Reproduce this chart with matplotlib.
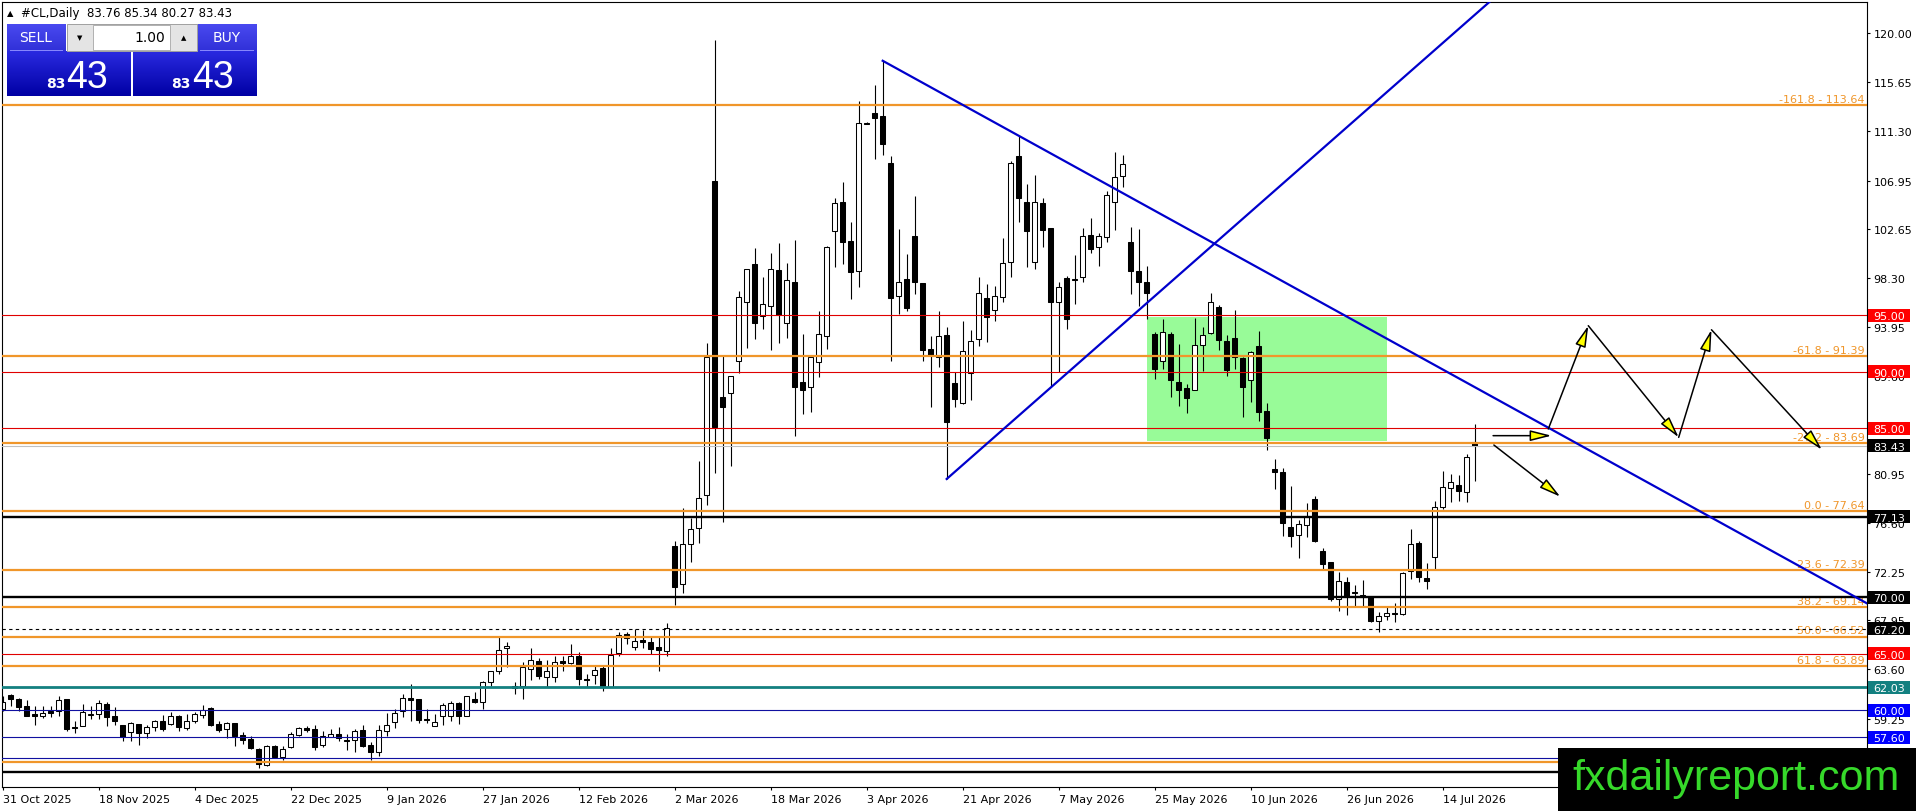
import matplotlib
matplotlib.use("Agg")
import matplotlib.pyplot as plt
from matplotlib.patches import Rectangle, FancyArrowPatch
import numpy as np

plt.rcParams['font.family'] = ['DejaVu Sans']

# ----------------------------------------------------------------------------------------------
# DATA  (daily candles of #CL, bar 0 = 31 Oct 2025)
opens = [60.10, 61.34, 60.98, 60.36, 59.65, 59.50, 59.95, 59.95, 60.98, 58.50,
         58.62, 59.59, 59.62, 60.54, 59.50, 58.68, 58.03, 58.77, 57.94, 58.47,
         59.00, 58.77, 59.50, 58.41, 59.00, 59.59, 60.15, 58.77, 58.32, 58.85,
         57.79, 57.44, 56.55, 55.13, 56.84, 55.87, 56.70, 57.82, 58.38, 58.32,
         56.93, 57.64, 57.88, 57.35, 57.38, 58.23, 56.93, 56.31, 58.17, 58.91,
         59.89, 61.07, 60.98, 59.21, 58.62, 59.45, 59.45, 60.63, 59.50, 60.98,
         60.69, 62.46, 63.43, 65.48, 61.96, 62.17, 63.65, 64.39, 62.97, 62.91,
         64.39, 64.15, 64.77, 62.76, 63.15, 63.71, 62.08, 65.04, 66.75, 65.57,
         66.25, 66.01, 65.57, 65.21, 74.55, 71.16, 74.70, 76.12, 79.10, 106.90,
         87.80, 88.14, 90.93, 96.16, 99.55, 94.96, 95.79, 98.99, 94.29, 97.92,
         89.12, 88.67, 90.89, 93.20, 102.50, 105.02, 101.59, 98.90, 112.05, 112.93,
         112.64, 108.47, 96.74, 98.22, 102.00, 97.83, 92.01, 91.33, 93.25, 89.00,
         87.23, 89.89, 92.90, 96.50, 95.50, 96.59, 99.69, 109.10, 105.07, 99.69,
         104.96, 102.71, 96.21, 98.28, 98.22, 98.37, 102.12, 101.02, 101.91, 105.01,
         107.38, 101.50, 98.90, 97.92, 93.34, 90.92, 93.34, 89.06, 88.53, 88.41,
         92.40, 93.40, 95.70, 92.75, 92.99, 91.21, 89.29, 92.25, 86.54, 81.37,
         81.08, 76.26, 75.52, 76.41, 78.72, 74.13, 73.10, 69.85, 71.33, 70.44,
         70.20, 70.00, 67.93, 68.31, 68.58, 68.52, 72.36, 74.81, 71.71, 73.60,
         77.98, 79.66, 79.96, 79.30, 83.76]
highs = [61.28, 61.43, 61.05, 60.92, 60.39, 60.33, 60.33, 61.28, 61.00, 59.06,
         60.51, 60.39, 60.92, 60.69, 60.24, 58.70, 58.91, 58.80, 58.68, 59.15,
         59.59, 59.80, 59.56, 59.65, 59.80, 60.45, 60.24, 59.06, 58.97, 58.87,
         58.03, 57.67, 56.61, 56.93, 56.93, 56.84, 58.03, 58.53, 58.62, 58.71,
         58.17, 58.32, 58.47, 57.88, 58.32, 58.71, 57.14, 58.71, 59.71, 60.10,
         61.43, 62.31, 61.00, 60.10, 59.65, 60.63, 60.83, 60.75, 61.28, 61.57,
         62.61, 63.49, 66.45, 66.01, 62.52, 64.24, 65.48, 64.59, 64.47, 64.77,
         64.77, 65.86, 65.13, 63.20, 63.88, 63.94, 65.48, 66.90, 66.90, 67.19,
         67.13, 66.54, 66.54, 67.73, 75.00, 77.91, 77.05, 82.09, 92.54, 119.40,
         91.42, 89.63, 97.20, 99.14, 100.93, 98.40, 100.49, 101.42, 99.63, 101.68,
         93.34, 91.30, 95.41, 101.17, 105.37, 106.79, 103.30, 114.03, 112.10, 115.42,
         117.57, 109.10, 102.65, 100.43, 105.61, 97.85, 93.20, 95.41, 93.99, 89.94,
         94.52, 93.73, 98.37, 97.78, 97.63, 101.82, 108.71, 110.93, 106.64, 107.44,
         105.37, 102.75, 97.92, 98.46, 100.35, 102.74, 103.62, 102.29, 106.05, 109.50,
         109.21, 102.85, 102.65, 99.34, 93.49, 94.67, 93.49, 92.46, 88.91, 94.73,
         93.93, 96.98, 95.91, 93.25, 95.50, 91.27, 91.87, 93.64, 87.23, 82.26,
         81.43, 79.84, 76.88, 78.36, 79.01, 74.34, 73.12, 72.27, 71.77, 71.09,
         71.56, 70.14, 68.73, 69.26, 69.50, 72.27, 76.06, 75.02, 73.04, 78.57,
         81.23, 80.93, 80.84, 82.70, 85.34]
lows = [59.95, 60.39, 59.95, 59.45, 58.71, 59.27, 59.36, 59.50, 58.17, 57.97,
        58.60, 59.21, 59.21, 58.62, 58.71, 57.29, 57.29, 56.93, 57.49, 58.17,
        58.17, 58.68, 58.17, 58.26, 58.85, 59.33, 58.56, 58.03, 57.52, 56.84,
        56.99, 56.55, 54.84, 55.07, 55.75, 55.60, 56.68, 57.73, 58.03, 56.49,
        56.76, 57.58, 57.29, 56.49, 56.25, 56.70, 55.60, 55.90, 57.73, 58.38,
        59.36, 59.06, 58.82, 58.82, 58.56, 58.71, 59.00, 58.77, 59.45, 60.63,
        60.10, 62.16, 63.20, 63.80, 61.43, 60.99, 62.67, 62.76, 62.02, 62.47,
        63.50, 64.09, 62.26, 62.02, 62.32, 61.73, 62.02, 64.77, 65.86, 65.36,
        65.48, 64.98, 63.50, 64.77, 69.33, 70.34, 73.14, 74.82, 78.17, 81.05,
        76.68, 81.64, 89.93, 92.09, 92.91, 93.77, 91.90, 92.54, 93.02, 84.33,
        86.25, 86.40, 89.50, 92.01, 99.25, 99.55, 96.45, 97.48, 111.95, 108.86,
        109.21, 90.98, 95.12, 95.41, 96.89, 90.98, 86.90, 90.39, 80.49, 86.84,
        87.10, 87.52, 92.25, 92.66, 94.52, 96.21, 98.37, 103.30, 99.25, 99.10,
        101.03, 88.76, 89.94, 93.79, 96.00, 97.92, 100.52, 99.34, 101.47, 102.59,
        106.34, 96.89, 95.80, 94.67, 89.35, 90.24, 87.73, 86.99, 86.31, 88.40,
        90.09, 93.38, 91.95, 89.65, 90.24, 85.96, 87.34, 85.66, 83.09, 79.60,
        75.46, 74.49, 73.45, 75.32, 74.87, 72.51, 69.70, 68.82, 68.43, 69.11,
        69.11, 67.78, 66.95, 68.02, 67.78, 68.43, 71.62, 71.33, 70.74, 72.51,
        77.83, 78.48, 78.57, 78.48, 80.27]
closes = [60.75, 60.98, 60.30, 59.50, 59.45, 59.71, 59.77, 60.92, 58.32, 58.38,
          59.86, 59.65, 60.60, 59.42, 59.06, 57.58, 58.85, 57.97, 58.47, 59.00,
          58.32, 59.50, 58.47, 59.00, 59.65, 60.04, 58.71, 58.26, 58.85, 57.73,
          57.38, 56.61, 55.22, 56.84, 55.87, 56.55, 57.88, 58.41, 58.26, 56.70,
          57.67, 57.88, 57.52, 57.23, 58.17, 56.84, 56.25, 58.26, 58.68, 59.71,
          61.07, 60.92, 59.15, 59.12, 58.91, 60.45, 60.63, 59.50, 61.22, 60.69,
          62.46, 63.43, 65.35, 65.66, 62.17, 63.80, 64.45, 63.00, 63.44, 64.30,
          64.15, 64.77, 62.76, 62.70, 63.59, 62.17, 64.92, 66.69, 66.40, 66.16,
          66.01, 65.42, 65.36, 67.25, 70.90, 74.70, 76.05, 78.84, 91.34, 85.08,
          86.83, 89.63, 96.64, 99.07, 94.29, 95.97, 99.14, 95.04, 98.14, 88.67,
          88.41, 91.27, 93.34, 101.03, 104.96, 101.47, 98.81, 112.02, 112.00, 112.49,
          110.19, 96.50, 97.92, 95.62, 97.92, 91.95, 91.48, 93.13, 85.51, 87.58,
          91.81, 92.75, 96.95, 94.82, 96.68, 99.61, 108.50, 105.37, 102.45, 105.07,
          102.60, 96.15, 97.48, 94.67, 98.16, 102.00, 100.88, 102.00, 105.66, 107.23,
          108.41, 98.96, 97.92, 96.95, 90.24, 93.49, 89.29, 88.41, 87.67, 92.40,
          93.28, 96.15, 92.84, 90.18, 91.27, 88.61, 91.78, 86.40, 84.12, 81.08,
          76.56, 75.46, 76.50, 77.24, 74.96, 72.95, 69.85, 71.48, 70.14, 70.35,
          70.06, 67.93, 68.37, 68.58, 68.50, 72.15, 74.73, 71.77, 71.42, 77.98,
          79.75, 80.19, 79.45, 82.41, 83.43]

date_labels = ['31 Oct 2025', '18 Nov 2025', '4 Dec 2025', '22 Dec 2025', '9 Jan 2026',
               '27 Jan 2026', '12 Feb 2026', '2 Mar 2026', '18 Mar 2026', '3 Apr 2026',
               '21 Apr 2026', '7 May 2026', '25 May 2026', '10 Jun 2026', '26 Jun 2026',
               '14 Jul 2026']
date_bars = [0, 12, 24, 36, 48, 60, 72, 84, 96, 108, 120, 132, 144, 156, 168, 180]

price_ticks = [120.00, 115.65, 111.30, 106.95, 102.65, 98.30, 93.95, 89.60, 85.30,
               80.95, 76.60, 72.25, 67.95, 63.60, 59.25, 54.90]

# fibonacci levels (the 100.0 label sits under the watermark, so it has no text)
fib_values = [113.64, 91.39, 83.69, 77.64, 72.39, 69.14, 66.52, 63.89, 55.39]
fib_labels = ['-161.8 - 113.64', '-61.8 - 91.39', '-27.2 - 83.69', '0.0 - 77.64',
              '23.6 - 72.39', '38.2 - 69.14', '50.0 - 66.52', '61.8 - 63.89', None]
# horizontal support / resistance lines
red_levels = [95.00, 90.00, 85.00, 65.00]
black_levels = [77.13, 70.00, 54.49]
dashed_level = 67.20
teal_level = 62.03
blue_levels = [60.00, 57.60, 55.73]
bid_level = 83.43

# price tags on the right axis
tag_values = [95.00, 90.00, 85.00, 83.43, 77.13, 70.00, 67.20, 65.00, 62.03, 60.00, 57.60]
tag_colors = ['#FF0000', '#FF0000', '#FF0000', '#000000', '#000000', '#000000', '#000000',
              '#FF0000', '#138080', '#0000FF', '#0000FF']

# trend lines (bar, price)
down_trend = [(110, 117.57), (240, 66.74)]
up_trend = [(118, 80.49), (200, 131.61)]

# green box (bar0, bar1, low, high)
zone = (143.0, 173.0, 83.88, 94.82)

# projected path arrows (bar, price)
arrows = [((186.3, 84.33), (193.6, 84.33)),
          ((186.4, 83.50), (194.7, 78.92)),
          ((193.2, 84.92), (198.2, 94.08)),
          ((198.2, 94.08), (209.5, 84.18)),
          ((209.5, 84.18), (213.6, 93.72)),
          ((213.6, 93.72), (227.4, 83.08))]

# ----------------------------------------------------------------------------------------------
W, H = 1916, 812
fig = plt.figure(figsize=(W / 100, H / 100), dpi=100)
fig.patch.set_facecolor('white')

ax_l, ax_r, ax_t, ax_b = 2.3, 1867.0, 3.0, 788.0
ax = fig.add_axes([ax_l / W, 1 - ax_b / H, (ax_r - ax_l) / W, (ax_b - ax_t) / H])
ax.set_xlim(-0.05, 233.04)
ax.set_ylim(53.18, 122.78)
ax_w_px = ax_r - ax_l
px_per_unit = (ax_b - ax_t) / (122.78 - 53.18)

# CANDLES - - - - - - - - - - - - - - - - - - - - - - - - - - - - - - - - - - - - - - - - - - -
o = np.array(opens)
c = np.array(closes)
idx = np.arange(len(o))
up = c >= o
body_lo = np.minimum(o, c)
body_h = np.maximum(np.abs(c - o), 0.07)

ax.vlines(idx, lows, highs, color='black', lw=0.8, zorder=2)
ax.bar(idx[up], body_h[up], bottom=body_lo[up], width=0.55, facecolor='white',
       edgecolor='black', lw=0.75, zorder=2.5)
ax.bar(idx[~up], body_h[~up], bottom=body_lo[~up], width=0.55, facecolor='black',
       edgecolor='black', lw=0.75, zorder=2.5)

# OBJECTS - - - - - - - - - - - - - - - - - - - - - - - - - - - - - - - - - - - - - - - - - - -
ax.add_patch(Rectangle((zone[0], zone[2]), zone[1] - zone[0], zone[3] - zone[2],
                       facecolor='#98FB98', edgecolor='none', zorder=1))

orange = '#F0962A'
for v, lab in zip(fib_values, fib_labels):
    ax.axhline(v, color=orange, lw=1.6, zorder=3)
    if lab:
        ax.text(0.9988, v + 0.12, lab, transform=ax.get_yaxis_transform(), color=orange,
                fontsize=8, ha='right', va='bottom', zorder=3)
for v in red_levels:
    ax.axhline(v, color='#E00000', lw=0.8, zorder=3)
for v in black_levels:
    ax.axhline(v, color='black', lw=1.7, zorder=3)
ax.axhline(dashed_level, color='black', lw=0.8, ls=(0, (3, 3)), zorder=3)
ax.axhline(teal_level, color='#138080', lw=2.0, zorder=3)
for v in blue_levels:
    ax.axhline(v, color='#1010A0', lw=0.8, zorder=3)
ax.axhline(bid_level, color='#C0C0C0', lw=0.8, zorder=2.8)

for line in (down_trend, up_trend):
    ax.plot([line[0][0], line[1][0]], [line[0][1], line[1][1]], color='#0000CC', lw=1.6, zorder=4)

for start, end in arrows:
    ax.add_patch(FancyArrowPatch(start, end, arrowstyle='-|>,head_length=1.3,head_width=0.33',
                                 mutation_scale=10, shrinkA=0, shrinkB=0, facecolor='yellow',
                                 edgecolor='black', lw=1.1, zorder=5))

# AXES - - - - - - - - - - - - - - - - - - - - - - - - - - - - - - - - - - - - - - - - - - - - -
for s in ax.spines.values():
    s.set_color('black')
    s.set_linewidth(0.8)
ax.yaxis.tick_right()
ax.set_yticks(price_ticks)
ax.set_yticklabels(['{:.2f}'.format(v) for v in price_ticks])
ax.set_xticks(date_bars)
ax.set_xticklabels(date_labels, ha='left')
ax.tick_params(axis='both', labelsize=8, length=2.5, width=0.8, color='black', pad=2.2)

trans = ax.get_yaxis_transform()
for v, col in zip(tag_values, tag_colors):
    ax.add_patch(Rectangle((1 + 1.3 / ax_w_px, v - 6.5 / px_per_unit), 42 / ax_w_px,
                           13 / px_per_unit, transform=trans, facecolor=col, edgecolor='none',
                           clip_on=False, zorder=6))
    ax.text(1 + 6.3 / ax_w_px, v, '{:.2f}'.format(v), transform=trans, color='white',
            fontsize=8, ha='left', va='center_baseline', clip_on=False, zorder=7)

# OVERLAY (trade panel, header, watermark) - - - - - - - - - - - - - - - - - - - - - - - - - -
ov = fig.add_axes([0, 0, 1, 1])
ov.set_xlim(0, W)
ov.set_ylim(H, 0)
ov.axis('off')


def gradient_box(x0, y0, x1, y1, top, bottom):
    grad = np.linspace(0, 1, 64)[:, None]
    c0 = np.array(matplotlib.colors.to_rgb(top))
    c1 = np.array(matplotlib.colors.to_rgb(bottom))
    img = c0[None, None, :] * (1 - grad[:, :, None]) + c1[None, None, :] * grad[:, :, None]
    ov.imshow(img, extent=(x0, x1, y1, y0), aspect='auto', zorder=2, interpolation='bilinear')


last = len(opens) - 1
ov.text(7, 13.5, '\u25B2', fontsize=6, ha='left', va='center', color='black')
ov.text(21, 13.5, '#CL,Daily  {:.2f} {:.2f} {:.2f} {:.2f}'.format(
    opens[last], highs[last], lows[last], closes[last]), fontsize=8.5, ha='left', va='center')

gradient_box(6.7, 51.7, 130.7, 96.7, '#2A2AE0', '#0000A4')
gradient_box(133.3, 51.7, 256.7, 96.7, '#2A2AE0', '#0000A4')
gradient_box(6.7, 25, 65, 51.7, '#4A4AF0', '#3030D8')
gradient_box(197, 25, 256.7, 51.7, '#4A4AF0', '#3030D8')
ov.add_patch(Rectangle((67, 25), 130, 26.7, facecolor='#E4E4E4', edgecolor='#A0A0A0', lw=0.7, zorder=3))
ov.add_patch(Rectangle((93, 25.5), 77, 25.7, facecolor='white', edgecolor='#B0B0B0', lw=0.7, zorder=3))
ov.plot([10, 61.7], [51.2, 51.2], color='#8A8AFF', lw=0.7, zorder=4)
ov.plot([200, 253.5], [51.2, 51.2], color='#8A8AFF', lw=0.7, zorder=4)
ov.text(80, 38.5, '\u25BC', fontsize=5, ha='center', va='center', color='black', zorder=5)
ov.text(183.5, 38.5, '\u25B2', fontsize=5, ha='center', va='center', color='black', zorder=5)
ov.text(165, 38.5, '1.00', fontsize=10, ha='right', va='center', color='black', zorder=5)
ov.text(36, 38.5, 'SELL', fontsize=10, ha='center', va='center', color='white', zorder=5)
ov.text(227, 38.5, 'BUY', fontsize=10, ha='center', va='center', color='white', zorder=5)
for x_small, x_big in ((46, 66), (171, 192)):
    ov.text(x_small, 88, '{:.0f}'.format(int(closes[last])), fontsize=10, fontweight='bold',
            ha='left', va='baseline', color='white', zorder=5)
    ov.text(x_big, 87.5, '{:02d}'.format(int(round(closes[last] * 100)) % 100), fontsize=27,
            family='Liberation Sans', ha='left', va='baseline', color='white', zorder=5)

ov.add_patch(Rectangle((1558, 749), 358, 63, facecolor='black', edgecolor='none', zorder=8))
ov.text(1736.5, 790, 'fxdailyreport.com', fontsize=31, family='Liberation Sans',
        color='#36D92A', ha='center', va='baseline', zorder=9)

fig.savefig('out.png', dpi=100, facecolor='white')
